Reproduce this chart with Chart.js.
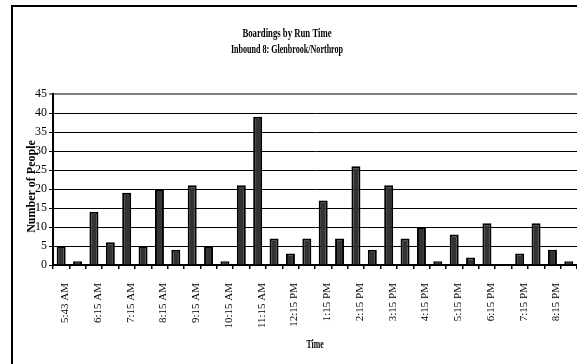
<!DOCTYPE html>
<html>
<head>
<meta charset="utf-8">
<script src="https://cdn.jsdelivr.net/npm/chart.js@4/dist/chart.umd.min.js"></script>
<style>
  html, body { margin: 0; padding: 0; background: #ffffff; }
  #wrap { position: relative; width: 577px; height: 364px; }
</style>
</head>
<body>
<div id="wrap"><canvas id="chart" width="577" height="364"></canvas></div>
<script>
// Run-time labels shown under every other bar
const tickLabels = ['5:43 AM', '6:15 AM', '7:15 AM', '8:15 AM', '9:15 AM', '10:15 AM',
  '11:15 AM', '12:15 PM', '1:15 PM', '2:15 PM', '3:15 PM', '4:15 PM', '5:15 PM',
  '6:15 PM', '7:15 PM', '8:15 PM'];

// Boardings per run (32 runs)
const boardings = [5, 1, 14, 6, 19, 5, 20, 4, 21, 5, 1, 21, 39, 7, 3, 7,
  17, 7, 26, 4, 21, 7, 10, 1, 8, 2, 11, 0, 3, 11, 4, 1];

const chartTitle = ['Boardings by Run Time', 'Inbound 8: Glenbrook/Northrop'];
const xTitle = 'Time';
const yTitle = 'Number of People';

// one category per run; unlabeled runs sit between the labeled ones
const categories = tickLabels.flatMap(t => [t, '']);

const SERIF = "'Liberation Serif', 'Times New Roman', serif";

function drawCondensed(ctx, text, x, y, font, sx) {
  ctx.save();
  ctx.translate(x, y);
  ctx.scale(sx, 1);
  ctx.font = font;
  ctx.fillStyle = '#000';
  ctx.textAlign = 'center';
  ctx.textBaseline = 'alphabetic';
  ctx.fillText(text, 0, 0);
  ctx.restore();
}

const decor = {
  id: 'decor',
  beforeDraw(chart) {
    const ctx = chart.ctx;
    ctx.save();
    ctx.fillStyle = '#fff';
    ctx.fillRect(0, 0, chart.width, chart.height);
    ctx.strokeStyle = '#000';
    ctx.lineWidth = 2;
    ctx.beginPath();
    ctx.moveTo(12, chart.height);
    ctx.lineTo(12, 6);
    ctx.lineTo(chart.width, 6);
    ctx.stroke();
    ctx.restore();
  },
  afterDraw(chart) {
    const ctx = chart.ctx;
    const area = chart.chartArea;
    drawCondensed(ctx, chartTitle[0], 287, 37, `bold 13px ${SERIF}`, 0.67);
    drawCondensed(ctx, chartTitle[1], 287, 52.5, `bold 13px ${SERIF}`, 0.62);
    drawCondensed(ctx, xTitle, (area.left + area.right) / 2, 348, `bold 11.5px ${SERIF}`, 0.68);
    ctx.save();
    ctx.translate(35, 186.5);
    ctx.rotate(-Math.PI / 2);
    ctx.font = `bold 12px ${SERIF}`;
    ctx.fillStyle = '#000';
    ctx.textAlign = 'center';
    ctx.textBaseline = 'alphabetic';
    ctx.fillText(yTitle, 0, 0);
    ctx.restore();
  }
};

new Chart(document.getElementById('chart'), {
  type: 'bar',
  data: {
    labels: categories,
    datasets: [{
      data: boardings,
      backgroundColor: '#333333',
      borderColor: '#000000',
      borderWidth: 2,
      barPercentage: 0.55,
      categoryPercentage: 1
    }]
  },
  options: {
    responsive: false,
    animation: false,
    devicePixelRatio: 1,
    layout: { padding: { top: 94, right: 0, bottom: 0, left: 0 } },
    plugins: {
      legend: { display: false },
      title: { display: false },
      tooltip: { enabled: false }
    },
    scales: {
      x: {
        afterFit(scale) {
          scale.height = 99;
          scale.paddingLeft = 0;
          scale.paddingRight = 0;
        },
        border: { display: true, color: '#000', width: 2 },
        grid: {
          offset: true,
          drawOnChartArea: false,
          drawTicks: true,
          tickLength: 4,
          color: '#000',
          lineWidth: 1.5
        },
        ticks: {
          autoSkip: false,
          maxRotation: 90,
          minRotation: 90,
          padding: 14,
          labelOffset: 4,
          color: '#000',
          font: { family: SERIF, size: 11 }
        }
      },
      y: {
        min: 0,
        max: 45,
        afterFit(scale) { scale.width = 53; },
        border: { display: true, color: '#000', width: 2 },
        grid: {
          color: ctx => ctx.tick && ctx.tick.value === 45 ? '#808080' : '#000',
          lineWidth: ctx => ctx.tick && ctx.tick.value === 45 ? 2 : 1,
          drawTicks: true,
          tickLength: 4
        },
        ticks: {
          stepSize: 5,
          padding: 2,
          color: '#000',
          font: { family: SERIF, size: 12 }
        }
      }
    }
  },
  plugins: [decor]
});
</script>
</body>
</html>
